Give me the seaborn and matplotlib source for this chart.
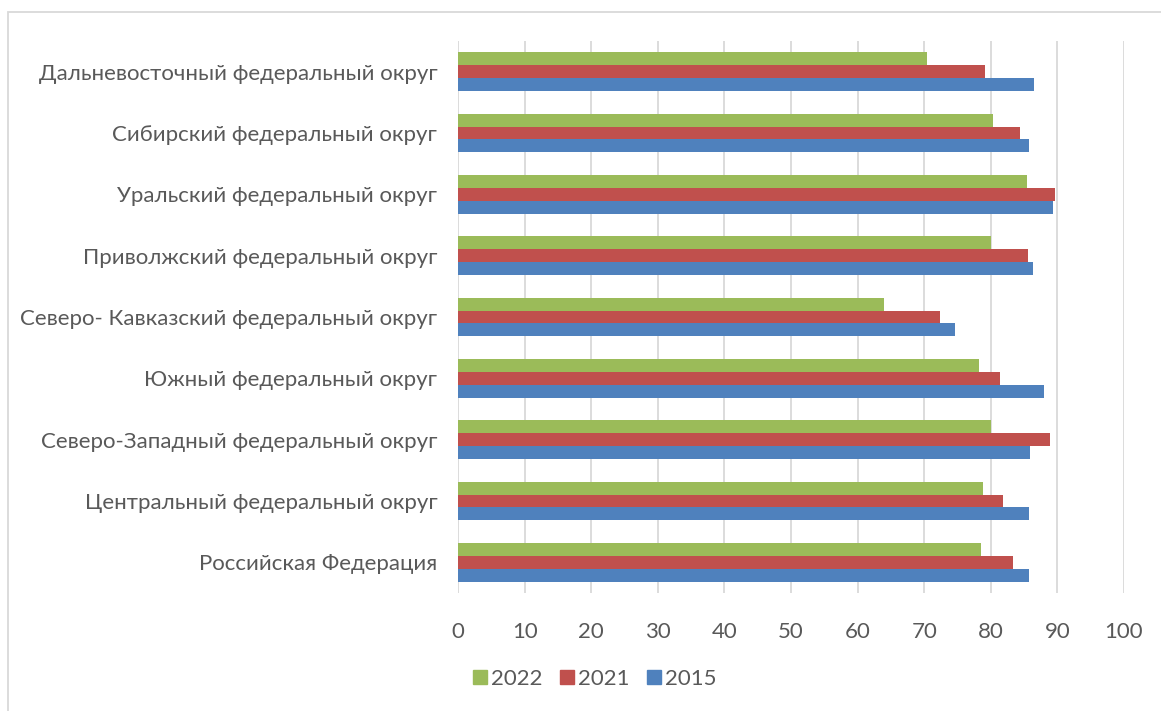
import numpy as np
import pandas as pd
import matplotlib
matplotlib.use('Agg')
import matplotlib.pyplot as plt
import seaborn as sns
from matplotlib.patches import Rectangle

# data (top to bottom)
districts = ['Дальневосточный федеральный округ',
             'Сибирский федеральный округ',
             'Уральский федеральный округ',
             'Приволжский федеральный округ',
             'Северо- Кавказский федеральный округ',
             'Южный федеральный округ',
             'Северо-Западный федеральный округ',
             'Центральный федеральный округ',
             'Российская Федерация']
years = ['2022', '2021', '2015']
v2022 = [70.4, 80.3, 85.5, 80.0, 63.9, 78.3, 80.0, 78.9, 78.5]
v2021 = [79.1, 84.4, 89.6, 85.6, 72.4, 81.4, 88.9, 81.9, 83.4]
v2015 = [86.5, 85.8, 89.4, 86.3, 74.6, 88.0, 85.9, 85.7, 85.8]
colors = ['#9BBB59', '#C0504D', '#4F81BD']
xticks = list(range(0, 101, 10))

df = pd.DataFrame({
    'district': districts * 3,
    'year': [years[0]] * 9 + [years[1]] * 9 + [years[2]] * 9,
    'value': v2022 + v2021 + v2015,
})

sns.set_theme(style='white')
plt.rcParams['font.family'] = ['Lato', 'DejaVu Sans']

fig = plt.figure(figsize=(11.61, 7.11), dpi=100)
ax = fig.add_axes([458 / 1161, 1 - 593 / 711, 666 / 1161, 552 / 711])

sns.barplot(data=df, x='value', y='district', hue='year', hue_order=years,
            palette=colors, orient='h', width=0.63, linewidth=0,
            saturation=1, ax=ax)

ax.set_xlim(0, 100)
ax.set_xticks(xticks)
ax.grid(axis='x', color='#D9D9D9', linewidth=1.3)
ax.set_axisbelow(True)
for s in ax.spines.values():
    s.set_visible(False)
ax.set_xlabel('')
ax.set_ylabel('')
ax.tick_params(axis='x', length=0, pad=21, labelsize=16, labelcolor='#595959')
ax.tick_params(axis='y', length=0, pad=15, labelsize=16, labelcolor='#595959')

ax.get_legend().remove()
handles = [Rectangle((0, 0), 1, 1, color=c) for c in colors]
fig.legend(handles, years, loc='center', bbox_to_anchor=(595 / 1161, 1 - 679 / 711),
           ncol=3, frameon=False, fontsize=16, labelcolor='#595959',
           handlelength=0.6, handleheight=0.6, handletextpad=0.2, columnspacing=0.8)

# light outer border of the chart area
fig.patches.append(Rectangle((8 / 1161, -0.1), 1.2, 1 - 12 / 711 + 0.1,
                             transform=fig.transFigure, fill=False,
                             edgecolor='#D9D9D9', linewidth=1.3))

fig.savefig('out.png', dpi=100)
